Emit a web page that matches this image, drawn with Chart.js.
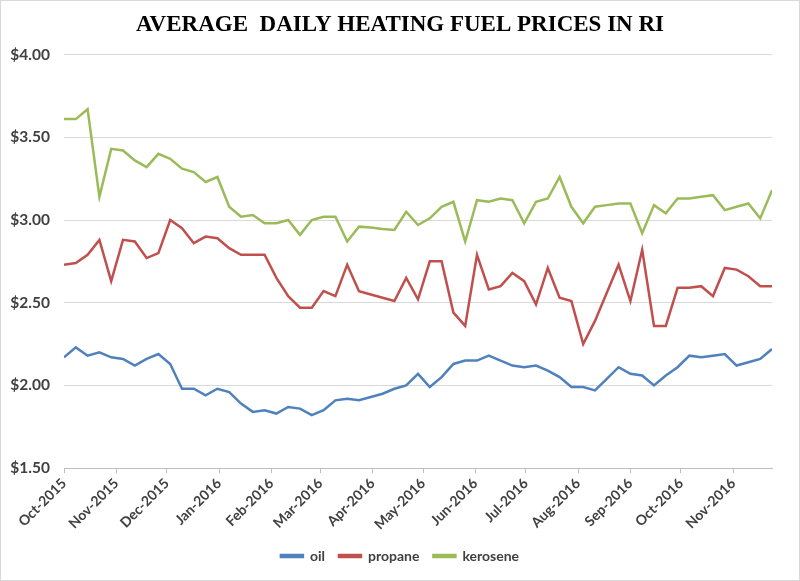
<!DOCTYPE html>
<html>
<head>
<meta charset="utf-8">
<script src="https://cdn.jsdelivr.net/npm/chart.js@4/dist/chart.umd.min.js"></script>
<style>
  html, body { margin: 0; padding: 0; background: #fff; }
  #wrap { width: 800px; height: 581px; }
</style>
</head>
<body>
<div id="wrap"><canvas id="fuelChart" width="800" height="581"></canvas></div>
<script>
// Weekly survey dates
const weekDates = [
    '2015-10-05', '2015-10-12', '2015-10-19', '2015-10-26', '2015-11-02', '2015-11-09', '2015-11-16', '2015-11-23', '2015-11-30',
    '2015-12-07', '2015-12-14', '2015-12-21', '2015-12-28', '2016-01-04', '2016-01-11', '2016-01-18', '2016-01-25',
    '2016-02-01', '2016-02-08', '2016-02-15', '2016-02-22', '2016-02-29', '2016-03-07', '2016-03-14', '2016-03-21', '2016-03-28',
    '2016-04-04', '2016-04-11', '2016-04-18', '2016-04-25', '2016-05-02', '2016-05-09', '2016-05-16', '2016-05-23', '2016-05-30',
    '2016-06-06', '2016-06-13', '2016-06-20', '2016-06-27', '2016-07-04', '2016-07-11', '2016-07-18', '2016-07-25',
    '2016-08-01', '2016-08-08', '2016-08-15', '2016-08-22', '2016-08-29', '2016-09-05', '2016-09-12', '2016-09-19', '2016-09-26',
    '2016-10-03', '2016-10-10', '2016-10-17', '2016-10-24', '2016-10-31', '2016-11-07', '2016-11-14', '2016-11-21', '2016-11-28'
];

// Prices ($/gal)
const oil = [
    2.17, 2.23, 2.18, 2.20, 2.17, 2.16, 2.12, 2.16, 2.19, 2.13,
    1.98, 1.98, 1.94, 1.98, 1.96, 1.89, 1.84, 1.85, 1.83, 1.87,
    1.86, 1.82, 1.85, 1.91, 1.92, 1.91, 1.93, 1.95, 1.98, 2.00,
    2.07, 1.99, 2.05, 2.13, 2.15, 2.15, 2.18, 2.15, 2.12, 2.11,
    2.12, 2.09, 2.05, 1.99, 1.99, 1.97, 2.04, 2.11, 2.07, 2.06,
    2.00, 2.06, 2.11, 2.18, 2.17, 2.18, 2.19, 2.12, 2.14, 2.16,
    2.22
];
const propane = [
    2.73, 2.74, 2.79, 2.88, 2.63, 2.88, 2.87, 2.77, 2.80, 3.00,
    2.95, 2.86, 2.90, 2.89, 2.83, 2.79, 2.79, 2.79, 2.65, 2.54,
    2.47, 2.47, 2.57, 2.54, 2.73, 2.57, 2.55, 2.53, 2.51, 2.65,
    2.52, 2.75, 2.75, 2.44, 2.36, 2.79, 2.58, 2.60, 2.68, 2.63,
    2.49, 2.71, 2.53, 2.51, 2.25, 2.39, 2.56, 2.73, 2.51, 2.82,
    2.36, 2.36, 2.59, 2.59, 2.60, 2.54, 2.71, 2.70, 2.66, 2.60,
    2.60
];
const kerosene = [
    3.61, 3.61, 3.67, 3.14, 3.43, 3.42, 3.36, 3.32, 3.40, 3.37,
    3.31, 3.29, 3.23, 3.26, 3.08, 3.02, 3.03, 2.98, 2.98, 3.00,
    2.91, 3.00, 3.02, 3.02, 2.87, 2.96, 2.955, 2.945, 2.94, 3.05,
    2.97, 3.01, 3.08, 3.11, 2.87, 3.12, 3.11, 3.13, 3.12, 2.98,
    3.11, 3.13, 3.26, 3.08, 2.98, 3.08, 3.09, 3.10, 3.10, 2.92,
    3.09, 3.04, 3.13, 3.13, 3.14, 3.15, 3.06, 3.08, 3.10, 3.01,
    3.18
];

// Month ticks on the date axis
const monthTickDates = [
    '2015-10-05', '2015-11-05', '2015-12-05', '2016-01-05', '2016-02-05', '2016-03-05', '2016-04-05',
    '2016-05-05', '2016-06-05', '2016-07-05', '2016-08-05', '2016-09-05', '2016-10-05', '2016-11-05'
];
const monthTickLabels = [
    'Oct-2015', 'Nov-2015', 'Dec-2015', 'Jan-2016', 'Feb-2016', 'Mar-2016', 'Apr-2016',
    'May-2016', 'Jun-2016', 'Jul-2016', 'Aug-2016', 'Sep-2016', 'Oct-2016', 'Nov-2016'
];
const yTicks = [1.5, 2.0, 2.5, 3.0, 3.5, 4.0];

const DAY = 86400000;
const t0 = Date.parse(weekDates[0]);
function dayOf(s) {
    return Math.round((Date.parse(s) - t0) / DAY);
}
function toPoints(values) {
    return values.map((v, i) => ({ x: dayOf(weekDates[i]), y: v }));
}
const tickDays = monthTickDates.map(dayOf);

const labelFont = { family: 'Lato, "Open Sans", sans-serif', size: 14, weight: 'bold' };

const frame = {
    id: 'frame',
    afterLayout(chart) {
        // centre title and legend on the whole canvas, not on the padded box
        [chart.legend, chart.titleBlock].forEach(box => {
            if (box) {
                box.left += 14;
                box.right += 14;
            }
        });
    },
    beforeDraw(chart) {
        const c = chart.ctx;
        c.save();
        c.fillStyle = '#ffffff';
        c.fillRect(0, 0, chart.width, chart.height);
        c.restore();
    },
    afterDraw(chart) {
        const c = chart.ctx;
        c.save();
        c.strokeStyle = '#d9d9d9';
        c.lineWidth = 1;
        c.strokeRect(0.5, 0.5, chart.width - 1, chart.height - 1);
        c.restore();
    }
};

function makeSet(label, values, color) {
    return {
        label: label,
        data: toPoints(values),
        borderColor: color,
        backgroundColor: color,
        borderWidth: 2.5,
        pointRadius: 0,
        tension: 0,
        fill: false
    };
}

new Chart(document.getElementById('fuelChart').getContext('2d'), {
    type: 'line',
    data: {
        datasets: [
            makeSet('oil', oil, '#4f81bd'),
            makeSet('propane', propane, '#c0504d'),
            makeSet('kerosene', kerosene, '#9bbb59')
        ]
    },
    options: {
        responsive: false,
        animation: false,
        devicePixelRatio: 1,
        layout: { padding: { left: 0, right: 28, top: 0, bottom: 8 } },
        plugins: {
            title: {
                display: true,
                text: 'AVERAGE  DAILY HEATING FUEL PRICES IN RI',
                color: '#000',
                font: { family: '"Liberation Serif", "Times New Roman", serif', size: 23, weight: 'bold' },
                padding: { top: 11, bottom: 16 }
            },
            legend: {
                position: 'bottom',
                labels: {
                    color: '#404040',
                    font: labelFont,
                    boxWidth: 22,
                    boxHeight: 2,
                    padding: 14
                }
            },
            tooltip: { enabled: false }
        },
        scales: {
            x: {
                type: 'linear',
                min: 0,
                max: dayOf(weekDates[weekDates.length - 1]),
                afterBuildTicks: scale => {
                    scale.ticks = tickDays.map(d => ({ value: d }));
                },
                ticks: {
                    autoSkip: false,
                    maxRotation: 45,
                    minRotation: 45,
                    color: '#404040',
                    font: labelFont,
                    padding: 2,
                    callback: (v) => monthTickLabels[tickDays.indexOf(v)]
                },
                grid: {
                    drawOnChartArea: false,
                    drawTicks: true,
                    tickLength: 5,
                    color: '#bfbfbf'
                },
                border: { display: true, color: '#bfbfbf', width: 1 }
            },
            y: {
                min: 1.5,
                max: 4.0,
                afterBuildTicks: scale => {
                    scale.ticks = yTicks.map(v => ({ value: v }));
                },
                afterFit: scale => { scale.width = 64; },
                ticks: {
                    color: '#404040',
                    font: { family: 'Lato, "Open Sans", sans-serif', size: 15.5, weight: 'bold' },
                    padding: 14,
                    callback: v => '$' + v.toFixed(2)
                },
                grid: { color: '#d9d9d9', drawTicks: false },
                border: { display: false }
            }
        }
    },
    plugins: [frame]
});
</script>
</body>
</html>
